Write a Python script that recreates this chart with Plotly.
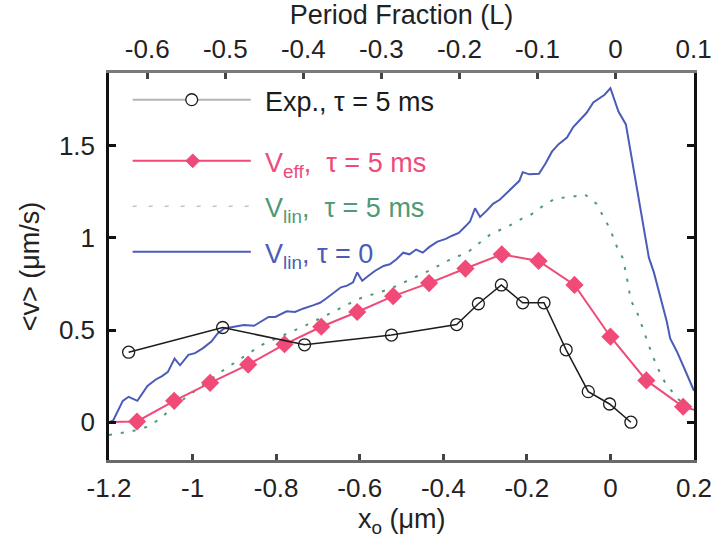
import plotly.graph_objects as go

# ---- data: displacement x_o (um) vs. mean velocity <v> (um/s) ----
exp_x = [-1.153, -0.928, -0.732, -0.524, -0.368, -0.316, -0.261, -0.210,
         -0.159, -0.106, -0.053, -0.002, 0.049]
exp_y = [0.380, 0.514, 0.420, 0.473, 0.530, 0.643, 0.745, 0.648,
         0.648, 0.393, 0.166, 0.099, 0.000]

veff_x = [-1.221, -1.133, -1.044, -0.958, -0.867, -0.780, -0.692, -0.606,
          -0.520, -0.434, -0.347, -0.260, -0.172, -0.086, 0.000, 0.086,
          0.174, 0.261]
veff_y = [0.000, 0.004, 0.116, 0.214, 0.313, 0.423, 0.518, 0.598,
          0.684, 0.755, 0.834, 0.911, 0.875, 0.745, 0.464, 0.227,
          0.084, 0.030]

vlin5_x = [-1.200, -1.179, -1.144, -1.112, -1.077, -1.049, -0.924, -0.888,
           -0.834, -0.728, -0.696, -0.602, -0.528, -0.477, -0.434, -0.383,
           -0.343, -0.288, -0.238, -0.214, -0.191, -0.159, -0.132, -0.092,
           -0.061, -0.034, -0.014, 0.000, 0.013, 0.029, 0.037, 0.049,
           0.065, 0.076, 0.088, 0.100, 0.115, 0.131, 0.159, 0.182, 0.200]
vlin5_y = [-0.070, -0.062, -0.048, -0.027, 0.018, 0.080, 0.286, 0.340,
           0.420, 0.527, 0.562, 0.670, 0.723, 0.777, 0.822, 0.884,
           0.920, 1.018, 1.071, 1.102, 1.125, 1.178, 1.214, 1.223,
           1.236, 1.187, 1.107, 1.045, 0.964, 0.893, 0.813, 0.661,
           0.589, 0.518, 0.447, 0.366, 0.286, 0.214, 0.134, 0.080, 0.060]

vlin0_x = [-1.200, -1.190, -1.167, -1.153, -1.132, -1.108, -1.088, -1.073,
           -1.059, -1.043, -1.030, -1.010, -0.994, -0.975, -0.955, -0.940,
           -0.924, -0.900, -0.877, -0.853, -0.834, -0.818, -0.802, -0.791,
           -0.775, -0.755, -0.736, -0.712, -0.695, -0.681, -0.661, -0.645,
           -0.630, -0.616, -0.606, -0.594, -0.579, -0.563, -0.543, -0.528,
           -0.512, -0.496, -0.481, -0.465, -0.449, -0.434, -0.414, -0.394,
           -0.379, -0.363, -0.347, -0.336, -0.324, -0.312, -0.296, -0.281,
           -0.265, -0.249, -0.234, -0.218, -0.210, -0.194, -0.171, -0.155,
           -0.140, -0.124, -0.104, -0.089, -0.069, -0.057, -0.041, -0.030,
           -0.014, 0.000, 0.019, 0.037, 0.092, 0.104, 0.119, 0.135,
           0.143, 0.159, 0.178, 0.194, 0.200]
vlin0_y = [0.000, 0.010, 0.116, 0.138, 0.116, 0.197, 0.232, 0.250,
           0.273, 0.345, 0.309, 0.366, 0.375, 0.402, 0.438, 0.482,
           0.509, 0.518, 0.527, 0.523, 0.548, 0.571, 0.571, 0.584,
           0.602, 0.598, 0.616, 0.634, 0.648, 0.670, 0.705, 0.732,
           0.741, 0.759, 0.813, 0.768, 0.795, 0.822, 0.848, 0.857,
           0.884, 0.920, 0.911, 0.937, 0.920, 0.950, 0.980, 0.995,
           1.012, 1.027, 1.063, 1.089, 1.161, 1.114, 1.148, 1.185,
           1.207, 1.245, 1.275, 1.310, 1.357, 1.345, 1.348, 1.405,
           1.468, 1.509, 1.545, 1.602, 1.648, 1.679, 1.735, 1.754,
           1.777, 1.813, 1.687, 1.616, 0.893, 0.813, 0.688, 0.545,
           0.455, 0.384, 0.286, 0.197, 0.170]

# ---- axis ticks ----
x_ticks = [-1.2, -1.0, -0.8, -0.6, -0.4, -0.2, 0.0, 0.2]
x_tick_text = ["-1.2", "-1", "-0.8", "-0.6", "-0.4", "-0.2", "0", "0.2"]
pf_ticks = [-0.6, -0.5, -0.4, -0.3, -0.2, -0.1, 0.0, 0.1]
pf_tick_text = ["-0.6", "-0.5", "-0.4", "-0.3", "-0.2", "-0.1", "0", "0.1"]
y_ticks = [0, 0.5, 1, 1.5]
y_tick_text = ["0", "0.5", "1", "1.5"]

# ---- styling ----
FONT = "Liberation Sans, Arial, Helvetica, sans-serif"
TICK_SIZE = 26
TITLE_SIZE = 27
LEGEND_SIZE = 27
C_EXP = "#1c1c1c"
C_EFF = "#ef4a78"
C_LIN5 = "#4f9a74"
C_LIN0 = "#4a5cb8"

W, H = 724, 543
ML, MR, MT, MB = 109, 21, 68, 83


def px(x):
    return (x - ML) / (W - ML - MR)


def py(y):
    return (H - MB - y) / (H - MT - MB)


fig = go.Figure()

fig.add_trace(go.Scatter(
    x=vlin0_x, y=vlin0_y, mode="lines",
    line=dict(color=C_LIN0, width=2), hoverinfo="skip"))
fig.add_trace(go.Scatter(
    x=vlin5_x, y=vlin5_y, mode="lines",
    line=dict(color=C_LIN5, width=2, dash="3px,9px"), hoverinfo="skip"))
fig.add_trace(go.Scatter(
    x=veff_x, y=veff_y, mode="lines+markers",
    line=dict(color=C_EFF, width=2),
    marker=dict(symbol="diamond", size=14, color=C_EFF),
    hoverinfo="skip"))
fig.add_trace(go.Scatter(
    x=exp_x, y=exp_y, mode="lines+markers",
    line=dict(color=C_EXP, width=1.5),
    marker=dict(symbol="circle-open", size=12, color=C_EXP,
                line=dict(width=1.3, color=C_EXP)),
    hoverinfo="skip"))
# placeholder so the top (period fraction) axis is drawn
fig.add_trace(go.Scatter(x=[None], y=[None], xaxis="x2", yaxis="y",
                         mode="lines", hoverinfo="skip"))

# ---- legend drawn inside the plot ----
shapes = []
annotations = []
lx0, lx1 = 133, 253
legend_rows = [
    # (line y, line colour, dash, text, text colour, text y)
    (95, "#b4b4b4", "solid", "Exp., \u03c4 = 5 ms", C_EXP, 97),
    (157, C_EFF, "solid", "V<sub>eff</sub>,  \u03c4 = 5 ms", C_EFF, 161),
    (203, "#c4c4c4", "4px,12px", "V<sub>lin</sub>,  \u03c4 = 5 ms", C_LIN5, 207),
    (249, C_LIN0, "solid", "V<sub>lin</sub>, \u03c4 = 0", C_LIN0, 253),
]
for ly, lc, ld, txt, tc, ty in legend_rows:
    shapes.append(dict(type="line", xref="paper", yref="paper",
                       x0=px(lx0), x1=px(lx1), y0=py(ly), y1=py(ly),
                       line=dict(color=lc, width=2 if ld == "solid" else 1.5,
                                 dash=ld)))
    annotations.append(dict(xref="paper", yref="paper", x=px(265), y=py(ty),
                            xanchor="left", yanchor="middle", showarrow=False,
                            text=txt,
                            font=dict(family=FONT, size=LEGEND_SIZE, color=tc)))

# x-axis title
annotations.append(dict(xref="paper", yref="paper", x=0.5, y=py(503),
                        xanchor="center", yanchor="top", showarrow=False,
                        text="x<sub>o</sub> (\u03bcm)",
                        font=dict(family=FONT, size=TITLE_SIZE, color="#222")))

# open circle sample
cx, cy, r = 193, 95, 6
shapes.append(dict(type="circle", xref="paper", yref="paper",
                   x0=px(cx - r), x1=px(cx + r), y0=py(cy + r), y1=py(cy - r),
                   fillcolor="white", line=dict(color=C_EXP, width=1.3)))
# filled diamond sample
dx, dy, d = 194, 157, 7
path = "M {} {} L {} {} L {} {} L {} {} Z".format(
    px(dx - d), py(dy), px(dx), py(dy - d), px(dx + d), py(dy), px(dx), py(dy + d))
shapes.append(dict(type="path", xref="paper", yref="paper", path=path,
                   fillcolor=C_EFF, line=dict(color=C_EFF, width=1)))

fig.update_layout(
    width=W, height=H,
    margin=dict(l=ML, r=MR, t=MT, b=MB),
    paper_bgcolor="white", plot_bgcolor="white",
    showlegend=False,
    font=dict(family=FONT, size=TICK_SIZE, color="#222"),
    shapes=shapes, annotations=annotations,
    xaxis=dict(range=[-1.2, 0.2], tickvals=x_ticks, ticktext=x_tick_text,
               ticks="inside", ticklen=6, tickwidth=2.5, tickcolor="#444",
               showline=True, linecolor="#6a6a6a", linewidth=2.5,
               showgrid=False, zeroline=False, ticklabelstandoff=3),
    xaxis2=dict(range=[-0.649, 0.1005], overlaying="x", side="top",
                anchor="y", tickvals=pf_ticks, ticktext=pf_tick_text,
                ticks="inside", ticklen=6, tickwidth=2.5, tickcolor="#444",
                showline=True, linecolor="#7a7a7a", linewidth=2.5,
                showgrid=False, zeroline=False, ticklabelstandoff=2,
                title=dict(text="Period Fraction (L)", standoff=3,
                           font=dict(size=TITLE_SIZE))),
    yaxis=dict(range=[-0.205, 1.895], tickvals=y_ticks, ticktext=y_tick_text,
               ticks="inside", ticklen=7, tickwidth=2.5, tickcolor="#111",
               showline=True, linecolor="#111", linewidth=2.5, mirror="ticks",
               showgrid=False, zeroline=False, ticklabelstandoff=6,
               title=dict(text="<v> (\u03bcm/s)", standoff=12,
                          font=dict(size=TITLE_SIZE))),
)

fig.write_html("out.html")
